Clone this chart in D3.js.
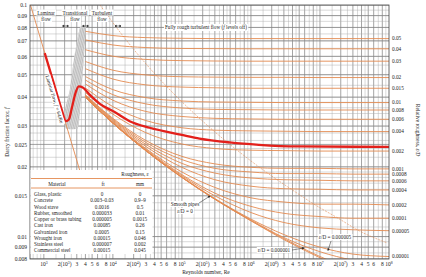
<!DOCTYPE html>
<html>
<head>
<meta charset="utf-8">
<script src="https://cdn.jsdelivr.net/npm/d3@7"></script>
<style>
body { margin: 0; background: #fff; }
text { font-family: "Liberation Serif", "DejaVu Serif", serif; fill: #222; }
</style>
</head>
<body>
<div id="chart"></div>
<script>
// Moody chart
var svgWidth = 426;
var svgHeight = 277;
var plotLeft = 30;
var plotRight = 389;
var plotTop = 5;
var plotBottom = 259;

// Reynolds numbers where each curve was read
var reSample = [4000, 1e4, 3e4, 1e5, 3e5, 1e6, 3e6, 1e7, 3e7, 1e8];

// relative roughness curves (f read at reSample)
var curveNames = ["0.05", "0.04", "0.03", "0.02", "0.015", "0.01", "0.008", "0.006", "0.004", "0.002",
    "0.001", "0.0008", "0.0006", "0.0004", "0.0002", "0.0001", "0.00005", "0.00001", "0.000005", "0.000001", "0"];
var curveF = [
    [0.0770, 0.0738, 0.0723, 0.0718, 0.0716, 0.0716, 0.0716, 0.0716, 0.0716, 0.0716],
    [0.0707, 0.0672, 0.0655, 0.0649, 0.0648, 0.0647, 0.0647, 0.0647, 0.0647, 0.0647],
    [0.0641, 0.0601, 0.0582, 0.0575, 0.0573, 0.0572, 0.0572, 0.0572, 0.0572, 0.0572],
    [0.0570, 0.0523, 0.0499, 0.0490, 0.0488, 0.0487, 0.0487, 0.0486, 0.0486, 0.0486],
    [0.0531, 0.0479, 0.0452, 0.0442, 0.0439, 0.0437, 0.0437, 0.0437, 0.0437, 0.0437],
    [0.0491, 0.0431, 0.0398, 0.0385, 0.0381, 0.0380, 0.0379, 0.0379, 0.0379, 0.0379],
    [0.0474, 0.0410, 0.0374, 0.0359, 0.0354, 0.0353, 0.0352, 0.0352, 0.0352, 0.0352],
    [0.0456, 0.0388, 0.0347, 0.0330, 0.0324, 0.0322, 0.0321, 0.0321, 0.0321, 0.0321],
    [0.0438, 0.0364, 0.0317, 0.0295, 0.0288, 0.0286, 0.0285, 0.0284, 0.0284, 0.0284],
    [0.0419, 0.0338, 0.0281, 0.0251, 0.0240, 0.0236, 0.0235, 0.0234, 0.0234, 0.0234],
    [0.0409, 0.0324, 0.0260, 0.0222, 0.0206, 0.0199, 0.0197, 0.0197, 0.0196, 0.0196],
    [0.0407, 0.0321, 0.0255, 0.0215, 0.0197, 0.0190, 0.0187, 0.0187, 0.0186, 0.0186],
    [0.0405, 0.0318, 0.0250, 0.0207, 0.0188, 0.0179, 0.0176, 0.0175, 0.0174, 0.0174],
    [0.0403, 0.0315, 0.0245, 0.0199, 0.0176, 0.0165, 0.0161, 0.0160, 0.0159, 0.0159],
    [0.0401, 0.0312, 0.0240, 0.0190, 0.0163, 0.0147, 0.0141, 0.0138, 0.0138, 0.0137],
    [0.0400, 0.0310, 0.0238, 0.0185, 0.0154, 0.0135, 0.0126, 0.0122, 0.0120, 0.0120],
    [0.0399, 0.0309, 0.0236, 0.0183, 0.0150, 0.0127, 0.0115, 0.0109, 0.0107, 0.0106],
    [0.0399, 0.0309, 0.0235, 0.0181, 0.0146, 0.0119, 0.0102, 0.0090, 0.0084, 0.0082],
    [0.0399, 0.0309, 0.0235, 0.0180, 0.0145, 0.0118, 0.0099, 0.0086, 0.0079, 0.0075],
    [0.0399, 0.0309, 0.0235, 0.0180, 0.0145, 0.0117, 0.0098, 0.0082, 0.0072, 0.0064],
    [0.0399, 0.0309, 0.0235, 0.0180, 0.0145, 0.0117, 0.0097, 0.0081, 0.0070, 0.0059]
];
// right-hand labels (first 18 curves)
var rightLabels = curveNames.slice(0, 18);

// laminar line f = 64/Re
var laminarRe = [640, 3400];
var laminarF = [0.1, 0.0188];

// highlighted red curve
var redRe = [1030, 1400, 1800, 2100, 2300, 2550, 2900, 3200, 3660, 4600, 6400, 10600, 17500, 34000, 1e5, 1.8e5, 4.9e5, 1.3e6, 5e6, 1e8];
var redF = [0.062, 0.0457, 0.0356, 0.0315, 0.032, 0.036, 0.042, 0.0445, 0.0440, 0.041, 0.0375, 0.0345, 0.0315, 0.0295, 0.0275, 0.0265, 0.0255, 0.0249, 0.0245, 0.0244];

// dashed boundary of fully rough zone
var boundRe = [6500, 15000, 27900, 45400, 102700, 296600, 653500, 1.43e6, 3.97e6, 8.53e6, 1.83e7, 3.9e7, 9.35e7];
var boundF = [0.1, 0.0716, 0.0572, 0.0486, 0.0379, 0.0284, 0.0234, 0.0196, 0.0159, 0.0137, 0.0120, 0.0105, 0.0094];

// transitional band outline
var bandRe = [3314, 4046, 3785, 3540, 3314, 3097, 2080, 1946, 2376, 2714];
var bandF = [0.0796, 0.0803, 0.0579, 0.0429, 0.0335, 0.0293, 0.0293, 0.0335, 0.0429, 0.0579];

// axis ticks
var fTicks = [0.1, 0.09, 0.08, 0.07, 0.06, 0.05, 0.04, 0.03, 0.025, 0.02, 0.015, 0.01, 0.009, 0.008];
var reTicks = [1e3, 2e3, 3e3, 4e3, 5e3, 6e3, 8e3, 1e4, 2e4, 3e4, 4e4, 5e4, 6e4, 8e4, 1e5, 2e5, 3e5, 4e5, 5e5, 6e5, 8e5,
    1e6, 2e6, 3e6, 4e6, 5e6, 6e6, 8e6, 1e7, 2e7, 3e7, 4e7, 5e7, 6e7, 8e7, 1e8];
var reTickLabels = ["10^3", "2(10^3)", "3", "4", "5", "6", "8", "10^4", "2(10^4)", "3", "4", "5", "6", "8",
    "10^5", "2(10^5)", "3", "4", "5", "6", "8", "10^6", "2(10^6)", "3", "4", "5", "6", "8",
    "10^7", "2(10^7)", "3", "4", "5", "6", "8", "10^8"];

// roughness table
var materials = ["Glass, plastic", "Concrete", "Wood stave", "Rubber, smoothed", "Copper or brass tubing",
    "Cast iron", "Galvanized iron", "Wrought iron", "Stainless steel", "Commercial steel"];
var roughFt = ["0", "0.003\u20130.03", "0.0016", "0.000033", "0.000005", "0.00085", "0.0005", "0.00015", "0.000007", "0.00015"];
var roughMm = ["0", "0.9\u20139", "0.5", "0.01", "0.0015", "0.26", "0.15", "0.046", "0.002", "0.045"];

var orange = "#e38a50";
var fontSize = 5.2;
var tickFont = 5.5;

var svg = d3.select("#chart")
    .append("svg")
    .attr("width", svgWidth)
    .attr("height", svgHeight)
    .style("background", "#fff");

var x = d3.scaleLog().domain([630, 1e8]).range([plotLeft, plotRight]);
var y = d3.scaleLog().domain([0.008, 0.1]).range([plotBottom, plotTop]);

var defs = svg.append("defs");
defs.append("clipPath").attr("id", "plotClip")
    .append("rect")
    .attr("x", plotLeft).attr("y", plotTop)
    .attr("width", plotRight - plotLeft).attr("height", plotBottom - plotTop);

var hatch = defs.append("pattern")
    .attr("id", "hatch")
    .attr("width", 1.6).attr("height", 4)
    .attr("patternUnits", "userSpaceOnUse")
    .attr("patternTransform", "rotate(12)");
hatch.append("rect").attr("width", 1.6).attr("height", 4).attr("fill", "#d9d9d9");
hatch.append("line").attr("x1", 0.4).attr("x2", 0.4).attr("y1", 0).attr("y2", 4)
    .attr("stroke", "#a8a8a8").attr("stroke-width", 0.5);

// grid
var grid = svg.append("g").attr("clip-path", "url(#plotClip)");
var gridMult = [1, 1.5, 2, 2.5, 3, 3.5, 4, 4.5, 5, 6, 7, 8, 9];
var vGrid = [];
[100, 1e3, 1e4, 1e5, 1e6, 1e7].forEach(dec => gridMult.forEach(m => vGrid.push(dec * m)));
vGrid = vGrid.filter(v => v > 630 && v < 1e8);
grid.selectAll(".vg").data(vGrid).enter().append("line")
    .attr("x1", d => x(d)).attr("x2", d => x(d))
    .attr("y1", plotTop).attr("y2", plotBottom)
    .attr("stroke", d => reTicks.indexOf(d) >= 0 ? "#7d7d7d" : "#a9a9a9")
    .attr("stroke-width", d => reTicks.indexOf(d) >= 0 ? 0.7 : 0.45);

var hGrid = [];
for (let i = 0; i <= 4; i++) hGrid.push(0.008 + i * 0.0005);
for (let i = 1; i <= 10; i++) hGrid.push(0.01 + i * 0.001);
for (let i = 1; i <= 10; i++) hGrid.push(0.02 + i * 0.002);
for (let i = 1; i <= 12; i++) hGrid.push(0.04 + i * 0.005);
grid.selectAll(".hg").data(hGrid).enter().append("line")
    .attr("x1", plotLeft).attr("x2", plotRight)
    .attr("y1", d => y(d)).attr("y2", d => y(d))
    .attr("stroke", "#a9a9a9")
    .attr("stroke-width", 0.45);
grid.selectAll(".hm").data(fTicks).enter().append("line")
    .attr("x1", plotLeft).attr("x2", plotRight)
    .attr("y1", d => y(d)).attr("y2", d => y(d))
    .attr("stroke", "#7d7d7d")
    .attr("stroke-width", 0.7);

var marks = svg.append("g").attr("clip-path", "url(#plotClip)");

// transitional band
marks.append("path")
    .datum(bandRe.map((r, i) => [r, bandF[i]]))
    .attr("d", d3.line().x(d => x(d[0])).y(d => y(d[1])).curve(d3.curveCardinalClosed.tension(0.6)))
    .attr("fill", "url(#hatch)")
    .attr("stroke", "none");

var line = d3.line()
    .x(d => x(d[0]))
    .y(d => y(d[1]))
    .curve(d3.curveMonotoneX);

marks.selectAll(".rough").data(curveF).enter().append("path")
    .attr("d", fs => line(reSample.map((r, i) => [r, fs[i]])))
    .attr("fill", "none")
    .attr("stroke", orange)
    .attr("stroke-width", 0.9);

marks.append("path")
    .datum(laminarRe.map((r, i) => [r, laminarF[i]]))
    .attr("d", d3.line().x(d => x(d[0])).y(d => y(d[1])))
    .attr("fill", "none")
    .attr("stroke", orange)
    .attr("stroke-width", 0.9);

marks.append("path")
    .datum(boundRe.map((r, i) => [r, boundF[i]]))
    .attr("d", line)
    .attr("fill", "none")
    .attr("stroke", orange)
    .attr("stroke-width", 0.6)
    .attr("stroke-dasharray", "2,1.2");

marks.append("path")
    .datum(redRe.map((r, i) => [r, redF[i]]))
    .attr("d", line)
    .attr("fill", "none")
    .attr("stroke", "#e3201b")
    .attr("stroke-width", 2.3)
    .attr("stroke-linejoin", "round");

// frame
svg.append("rect")
    .attr("x", plotLeft).attr("y", plotTop)
    .attr("width", plotRight - plotLeft).attr("height", plotBottom - plotTop)
    .attr("fill", "none").attr("stroke", "#444").attr("stroke-width", 0.8);

// left axis
var yAxisGroup = svg.append("g").attr("transform", `translate(${plotLeft},0)`);
yAxisGroup.call(d3.axisLeft(y).tickValues(fTicks).tickFormat(d => d).tickSize(0).tickPadding(3));
yAxisGroup.select(".domain").remove();
yAxisGroup.selectAll("text").attr("font-size", tickFont).style("font-family", "Liberation Serif").attr("fill", "#222");

// bottom labels
var xLab = svg.append("g");
reTicks.forEach((v, i) => {
    let parts = reTickLabels[i].split(/\^(\d)/);
    let t = xLab.append("text")
        .attr("x", x(v)).attr("y", 266)
        .attr("text-anchor", "middle")
        .attr("font-size", tickFont);
    parts.forEach((p, j) => {
        if (p === "") return;
        if (j % 2 === 1) {
            t.append("tspan").attr("dy", -2).attr("font-size", 3.8).text(p);
        } else {
            t.append("tspan").attr("dy", j > 0 ? 2 : 0).text(p);
        }
    });
});

// right labels
svg.append("g").selectAll("text").data(rightLabels).enter().append("text")
    .attr("x", plotRight + 3)
    .attr("y", (d, i) => y(curveF[i][curveF[i].length - 1]))
    .attr("dy", "0.35em")
    .attr("font-size", tickFont - 0.2)
    .text(d => d);

// axis titles
var leftTitle = svg.append("text")
    .attr("transform", "translate(9,132) rotate(-90)")
    .attr("text-anchor", "middle")
    .attr("font-size", tickFont);
leftTitle.append("tspan").text("Darcy friction factor, ");
leftTitle.append("tspan").attr("font-style", "italic").text("f");

var rightTitle = svg.append("text")
    .attr("transform", "translate(416,130) rotate(90)")
    .attr("text-anchor", "middle")
    .attr("font-size", tickFont);
rightTitle.append("tspan").text("Relative roughness, ");
rightTitle.append("tspan").attr("font-style", "italic").text("\u03b5/D");

svg.append("text")
    .attr("x", 206).attr("y", 274)
    .attr("text-anchor", "middle")
    .attr("font-size", tickFont)
    .text("Reynolds number, Re");

// label helper with white box
function boxedText(g, tx, ty, s, anchor) {
    let t = g.append("text")
        .attr("x", tx).attr("y", ty)
        .attr("text-anchor", anchor || "middle")
        .attr("font-size", fontSize)
        .text(s);
    let b = t.node().getBBox();
    g.insert("rect", "text")
        .attr("x", b.x - 1).attr("y", b.y)
        .attr("width", b.width + 2).attr("height", b.height)
        .attr("fill", "#fff");
    return t;
}

var notes = svg.append("g");
[["Laminar", 46], ["Transitional", 75], ["Turbulent", 102]].forEach(h => {
    let g = notes.append("g");
    boxedText(g, h[1], 14.5, h[0]);
    boxedText(g, h[1], 21, "flow");
});

// little double arrows under the headers
[65.5, 85.5, 118].forEach(ax => {
    notes.append("path")
        .attr("d", `M${ax - 3},26 L${ax + 3},26 M${ax - 3},26 l1.3,-0.9 l0,1.8 z M${ax + 3},26 l-1.3,-0.9 l0,1.8 z`)
        .attr("stroke", "#222").attr("stroke-width", 0.5).attr("fill", "#222");
});

var fr = notes.append("g");
var frText = boxedText(fr, 206, 29, "");
frText.text(null);
frText.append("tspan").text("Fully rough turbulent flow (");
frText.append("tspan").attr("font-style", "italic").text("f");
frText.append("tspan").text(" levels off)");
var frb = frText.node().getBBox();
fr.select("rect").attr("x", frb.x - 1).attr("y", frb.y).attr("width", frb.width + 2).attr("height", frb.height);

// laminar note along the line
var lam = notes.append("g").attr("transform", "translate(45.5,76) rotate(73)");
var lamText = lam.append("text").attr("font-size", fontSize);
lamText.append("tspan").text("Laminar flow, ");
lamText.append("tspan").attr("font-style", "italic").text("f");
lamText.append("tspan").text(" = 64/Re");
var lb = lamText.node().getBBox();
lam.insert("rect", "text").attr("x", lb.x - 0.5).attr("y", lb.y).attr("width", lb.width + 1).attr("height", lb.height).attr("fill", "#fff");

// smooth pipe and small roughness notes
boxedText(notes.append("g"), 185, 206, "Smooth pipes");
boxedText(notes.append("g"), 185, 213, "\u03b5/D = 0");
boxedText(notes.append("g"), 335, 239, "\u03b5/D = 0.000005");
boxedText(notes.append("g"), 274, 252, "\u03b5/D = 0.000001");

function arrow(x1, y1, x2, y2) {
    let ang = Math.atan2(y2 - y1, x2 - x1);
    let a1 = ang + 2.7, a2 = ang - 2.7;
    notes.append("path")
        .attr("d", `M${x1},${y1} L${x2},${y2} M${x2},${y2} L${x2 + 2 * Math.cos(a1)},${y2 + 2 * Math.sin(a1)} L${x2 + 2 * Math.cos(a2)},${y2 + 2 * Math.sin(a2)} Z`)
        .attr("stroke", "#222").attr("stroke-width", 0.5).attr("fill", "#222");
}
arrow(199, 203, 210, 196);
arrow(331, 241, 328, 250.5);
arrow(292, 250, 304, 248);

// roughness table
var table = svg.append("g");
table.append("rect")
    .attr("x", plotLeft + 0.5).attr("y", 170)
    .attr("width", 122).attr("height", 84)
    .attr("fill", "#fff");
table.append("text")
    .attr("x", 135).attr("y", 176)
    .attr("text-anchor", "middle")
    .attr("font-size", fontSize)
    .text("Roughness, \u03b5");
[178.5, 188].forEach(ly => {
    table.append("line")
        .attr("x1", plotLeft + 1).attr("x2", 152)
        .attr("y1", ly).attr("y2", ly)
        .attr("stroke", orange).attr("stroke-width", 0.9);
});
[["Material", 57], ["ft", 103], ["mm", 140]].forEach(h => {
    table.append("text")
        .attr("x", h[1]).attr("y", 185.5)
        .attr("text-anchor", "middle")
        .attr("font-size", fontSize)
        .text(h[0]);
});
materials.forEach((m, i) => {
    let ry = 196 + i * 6.25;
    table.append("text").attr("x", 34).attr("y", ry).attr("font-size", fontSize).text(m);
    table.append("text").attr("x", 102).attr("y", ry).attr("text-anchor", "middle").attr("font-size", fontSize).text(roughFt[i]);
    table.append("text").attr("x", 140).attr("y", ry).attr("text-anchor", "middle").attr("font-size", fontSize).text(roughMm[i]);
});
</script>
</body>
</html>
